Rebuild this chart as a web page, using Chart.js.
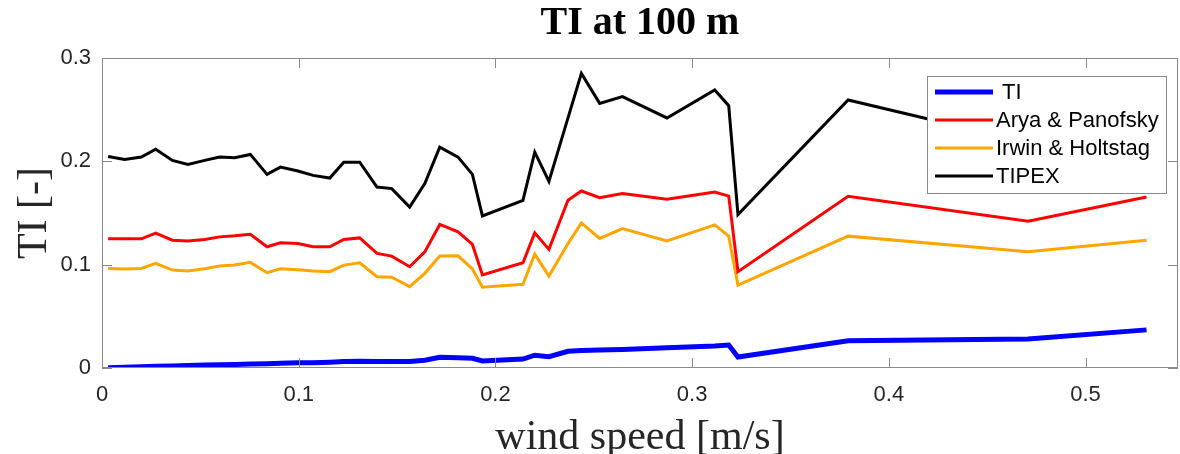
<!DOCTYPE html>
<html>
<head>
<meta charset="utf-8">
<script src="https://cdn.jsdelivr.net/npm/chart.js@4.4.0/dist/chart.umd.min.js"></script>
<style>
  html, body { margin: 0; padding: 0; background: #fff; }
  #wrap { width: 1180px; height: 454px; }
</style>
</head>
<body>
<div id="wrap"><canvas id="tiChart" width="1180" height="454"></canvas></div>
<script>
const windSpeed = [0.0031, 0.0115, 0.0200, 0.0273, 0.0358, 0.0437, 0.0522, 0.0598, 0.0675, 0.0754,
  0.0839, 0.0907, 0.0996, 0.1073, 0.1158, 0.1229, 0.1310, 0.1398, 0.1473, 0.1564,
  0.1641, 0.1717, 0.1810, 0.1883, 0.1934, 0.2140, 0.2200, 0.2272, 0.2369, 0.2437,
  0.2530, 0.2646, 0.2872, 0.3115, 0.3186, 0.3233, 0.3793, 0.4708, 0.5310];

const tiValues = [0.0003, 0.0008, 0.0012, 0.0016, 0.0020, 0.0024, 0.0028, 0.0031, 0.0035, 0.0039,
  0.0042, 0.0045, 0.0050, 0.0052, 0.0056, 0.0062, 0.0066, 0.0064, 0.0063, 0.0064,
  0.0075, 0.0104, 0.0100, 0.0094, 0.0068, 0.0086, 0.0124, 0.0110, 0.0162, 0.0170,
  0.0174, 0.0180, 0.0196, 0.0212, 0.0222, 0.0106, 0.0263, 0.0280, 0.0369];

const aryaValues = [0.1250, 0.1250, 0.1250, 0.1305, 0.1237, 0.1228, 0.1244, 0.1269, 0.1279, 0.1295,
  0.1173, 0.1211, 0.1205, 0.1173, 0.1173, 0.1244, 0.1259, 0.1109, 0.1083, 0.0980,
  0.1124, 0.1389, 0.1317, 0.1196, 0.0900, 0.1018, 0.1308, 0.1148, 0.1623, 0.1713,
  0.1649, 0.1688, 0.1633, 0.1703, 0.1664, 0.0932, 0.1662, 0.1420, 0.1655];

const irwinValues = [0.0964, 0.0958, 0.0964, 0.1013, 0.0948, 0.0938, 0.0960, 0.0987, 0.0996, 0.1022,
  0.0922, 0.0960, 0.0951, 0.0938, 0.0932, 0.0996, 0.1018, 0.0883, 0.0878, 0.0787,
  0.0916, 0.1083, 0.1086, 0.0958, 0.0781, 0.0810, 0.1102, 0.0890, 0.1204, 0.1404,
  0.1254, 0.1350, 0.1230, 0.1385, 0.1276, 0.0803, 0.1276, 0.1124, 0.1237];

const tipexValues = [0.2047, 0.2018, 0.2041, 0.2118, 0.2009, 0.1970, 0.2009, 0.2041, 0.2035, 0.2067,
  0.1874, 0.1944, 0.1906, 0.1864, 0.1838, 0.1992, 0.1992, 0.1751, 0.1736, 0.1558,
  0.1784, 0.2137, 0.2041, 0.1874, 0.1472, 0.1623, 0.2089, 0.1806, 0.2420, 0.2851,
  0.2561, 0.2626, 0.2420, 0.2690, 0.2539, 0.1485, 0.2594, 0.2180, 0.2350];

const seriesLabels = [' TI', 'Arya & Panofsky', 'Irwin & Holtstag', 'TIPEX'];
const xTickValues = [0, 0.1, 0.2, 0.3, 0.4, 0.5];
const yTickValues = [0, 0.1, 0.2, 0.3];

const AXIS_GRAY = '#8a8a8a';
const TEXT_DARK = '#262626';
const SERIF = '"Liberation Serif", "Times New Roman", serif';

function toPoints(values) {
  return windSpeed.map((x, i) => ({ x: x, y: values[i] }));
}

// matlab style box with inward ticks on all four sides
const axesFrame = {
  id: 'axesFrame',
  afterDatasetsDraw(chart) {
    const { ctx, chartArea: a, scales: { x, y } } = chart;
    const len = 10;
    ctx.save();
    ctx.strokeStyle = AXIS_GRAY;
    ctx.lineWidth = 1;
    ctx.beginPath();
    x.ticks.forEach(t => {
      const px = Math.round(x.getPixelForValue(t.value)) + 0.5;
      ctx.moveTo(px, a.bottom); ctx.lineTo(px, a.bottom - len);
      ctx.moveTo(px, a.top); ctx.lineTo(px, a.top + len);
    });
    y.ticks.forEach(t => {
      const py = Math.round(y.getPixelForValue(t.value)) + 0.5;
      ctx.moveTo(a.left, py); ctx.lineTo(a.left + len, py);
      ctx.moveTo(a.right, py); ctx.lineTo(a.right - len, py);
    });
    ctx.stroke();
    ctx.strokeRect(Math.round(a.left) + 0.5, Math.round(a.top) + 0.5,
      Math.round(a.width) - 1, Math.round(a.height) - 1);
    ctx.restore();
  }
};

const insideLegend = {
  id: 'insideLegend',
  afterDraw(chart) {
    const ctx = chart.ctx;
    const box = { x: 927, y: 76, w: 239, h: 117 };
    ctx.save();
    ctx.fillStyle = '#ffffff';
    ctx.fillRect(box.x, box.y, box.w, box.h);
    ctx.strokeStyle = AXIS_GRAY;
    ctx.lineWidth = 1;
    ctx.strokeRect(box.x + 0.5, box.y + 0.5, box.w, box.h);
    ctx.font = '22px "Liberation Sans", Arial, sans-serif';
    ctx.textBaseline = 'middle';
    chart.data.datasets.forEach((ds, i) => {
      const cy = 92 + i * 28;
      ctx.strokeStyle = ds.borderColor;
      ctx.lineWidth = ds.borderWidth;
      ctx.beginPath();
      ctx.moveTo(935, cy);
      ctx.lineTo(993, cy);
      ctx.stroke();
      ctx.fillStyle = '#000';
      ctx.fillText(ds.label, 996, cy + 1);
    });
    ctx.restore();
  }
};

const series = [
  { label: seriesLabels[0], values: tiValues, color: '#0000ff', width: 5 },
  { label: seriesLabels[1], values: aryaValues, color: '#ff0000', width: 3 },
  { label: seriesLabels[2], values: irwinValues, color: '#ffa500', width: 3 },
  { label: seriesLabels[3], values: tipexValues, color: '#000000', width: 3 }
];

Chart.defaults.font.family = '"Liberation Sans", Arial, sans-serif';
Chart.defaults.color = TEXT_DARK;

new Chart(document.getElementById('tiChart').getContext('2d'), {
  type: 'line',
  data: {
    datasets: series.map(s => ({
      label: s.label,
      data: toPoints(s.values),
      borderColor: s.color,
      backgroundColor: s.color,
      borderWidth: s.width,
      pointRadius: 0,
      tension: 0,
      fill: false
    }))
  },
  options: {
    responsive: false,
    animation: false,
    layout: { padding: { left: 0, right: 2, top: 0, bottom: 0 } },
    plugins: {
      legend: { display: false },
      tooltip: { enabled: false },
      title: {
        display: true,
        text: 'TI at 100 m',
        fullSize: false,
        color: '#000',
        font: { family: SERIF, size: 40, weight: 'bold' },
        padding: { top: 0, bottom: 10 }
      }
    },
    scales: {
      x: {
        type: 'linear',
        min: 0,
        max: 0.547,
        grid: { display: false, drawTicks: false },
        border: { display: false },
        afterBuildTicks: scale => { scale.ticks = xTickValues.map(v => ({ value: v })); },
        afterFit: scale => { scale.height = 86; },
        ticks: {
          padding: 14,
          color: TEXT_DARK,
          font: { size: 22 },
          callback: v => String(+v.toFixed(2))
        },
        title: {
          display: true,
          text: 'wind speed [m/s]',
          color: TEXT_DARK,
          font: { family: SERIF, size: 42 },
          padding: { top: 0, bottom: -9 }
        }
      },
      y: {
        type: 'linear',
        min: 0,
        max: 0.3,
        grid: { display: false, drawTicks: false },
        border: { display: false },
        afterBuildTicks: scale => { scale.ticks = yTickValues.map(v => ({ value: v })); },
        afterFit: scale => { scale.width = 102; },
        ticks: {
          padding: 11,
          color: TEXT_DARK,
          font: { size: 22 },
          callback: v => String(+v.toFixed(2))
        },
        title: {
          display: true,
          text: 'TI [-]',
          color: TEXT_DARK,
          font: { family: SERIF, size: 42 },
          padding: { top: 10, bottom: 0 }
        }
      }
    }
  },
  plugins: [axesFrame, insideLegend]
});
</script>
</body>
</html>
